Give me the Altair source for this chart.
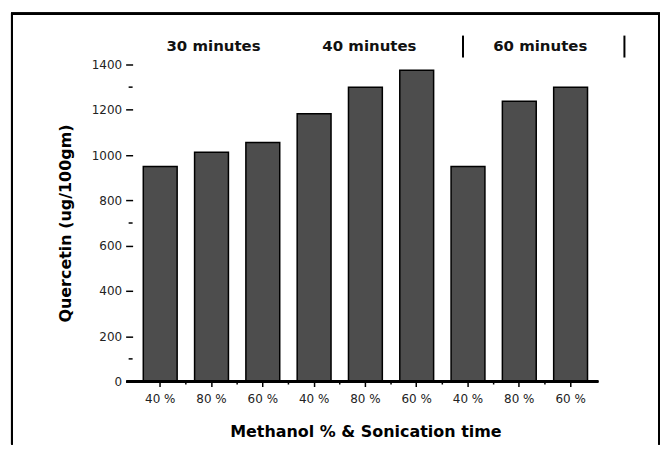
import altair as alt
import pandas as pd

# ---- data ----
keys = ["b1", "b2", "b3", "b4", "b5", "b6", "b7", "b8", "b9"]
labels = ["40 %", "80 %", "60 %", "40 %", "80 %", "60 %", "40 %", "80 %", "60 %"]
values = [950, 1013, 1056, 1183, 1300, 1375, 950, 1238, 1300]
y_ticks = [0, 200, 400, 600, 800, 1000, 1200, 1400]
minor_y = [100, 700, 1300]
group_names = ["30 minutes", "40 minutes", "60 minutes"]
group_anchor = ["b2", "b5", "b8"]
sep_anchor = ["b7", "b9"]

FONT = "DejaVu Sans"
W, H = 467, 318
STEP = 51.4

bars_df = pd.DataFrame({"key": keys, "label": labels, "value": values})
minor_df = pd.DataFrame({"v": minor_y})
between_df = pd.DataFrame({"key": keys[:-1]})

key_arr = "[" + ",".join(f"'{k}'" for k in keys) + "]"
lab_arr = "[" + ",".join(f"'{l}'" for l in labels) + "]"

xscale = alt.Scale(domain=keys, paddingInner=0.34, paddingOuter=0.208)
yscale = alt.Scale(domain=[0, 1400], nice=False)

bars = alt.Chart(bars_df).mark_bar(
    fill="#4d4d4d", stroke="black", strokeWidth=1.5
).encode(
    x=alt.X("key:N", scale=xscale, sort=keys, axis=alt.Axis(
        title="Methanol % & Sonication time",
        labelExpr=f"{lab_arr}[indexof({key_arr}, datum.value)]",
        labelAngle=0, labelFont=FONT, labelFontSize=12, labelColor="#222",
        labelPadding=7, tickSize=5, tickWidth=1.5, tickColor="black",
        domain=False, titleFont=FONT, titleFontSize=16, titleFontWeight="bold",
        titlePadding=19, titleColor="black")),
    y=alt.Y("value:Q", scale=yscale, axis=alt.Axis(
        title="Quercetin (ug/100gm)", values=y_ticks, format="d", domain=False,
        grid=False, tickSize=7, tickWidth=1.5, tickColor="black",
        labelFont=FONT, labelFontSize=12, labelColor="#222", labelPadding=4,
        titleFont=FONT, titleFontSize=16, titleFontWeight="bold",
        titlePadding=18, titleColor="black")),
)

# x axis line (extends to the left like the reference)
xline = alt.Chart(bars_df).mark_rule(color="black", strokeWidth=2).encode(
    x=alt.value(-6), x2=alt.value(W), y=alt.value(H)
)

# minor y ticks
ymin = alt.Chart(minor_df).mark_rule(color="black", strokeWidth=1.5).encode(
    y=alt.Y("v:Q", scale=yscale), x=alt.value(-4), x2=alt.value(0)
)

# small ticks between the bars on the x axis
xmin = alt.Chart(between_df).mark_rule(
    color="black", strokeWidth=1.5, xOffset=STEP / 2
).encode(
    x=alt.X("key:N", scale=xscale, sort=keys), y=alt.value(H), y2=alt.value(H + 3)
)

# group headers
dxs = [2, 4, 21]
headers = []
for name, anc, dx in zip(group_names, group_anchor, dxs):
    headers.append(
        alt.Chart(pd.DataFrame({"key": [anc], "t": [name]})).mark_text(
            font=FONT, fontSize=15, fontWeight="bold", color="#111",
            baseline="middle", dx=dx
        ).encode(x=alt.X("key:N", scale=xscale, sort=keys), y=alt.value(-19), text="t:N")
    )

sep_layers = []
for anc, off in zip(sep_anchor, [-5, 54]):
    sep_layers.append(
        alt.Chart(pd.DataFrame({"key": [anc]})).mark_rule(
            color="black", strokeWidth=2, xOffset=off
        ).encode(x=alt.X("key:N", scale=xscale, sort=keys), y=alt.value(-29), y2=alt.value(-7))
    )

# outer frame (open at the bottom)
frame_l = alt.Chart(bars_df).mark_rule(color="black", strokeWidth=2).encode(
    x=alt.value(-121), y=alt.value(-51), y2=alt.value(H + 63))
frame_t = alt.Chart(bars_df).mark_rule(color="black", strokeWidth=2).encode(
    x=alt.value(-122), x2=alt.value(W + 62), y=alt.value(-51))
frame_r = alt.Chart(bars_df).mark_rule(color="black", strokeWidth=2).encode(
    x=alt.value(W + 61), y=alt.value(-51), y2=alt.value(H + 63))

chart = alt.layer(
    bars, xline, ymin, xmin, *headers, *sep_layers, frame_l, frame_t, frame_r
).properties(
    width=W, height=H,
    autosize=alt.AutoSizeParams(type="pad"),
    padding={"left": 2, "top": 4, "right": 0, "bottom": 0},
    background="white",
).configure_view(stroke="transparent", strokeWidth=0)

chart.save("out.html", embed_options={"renderer": "svg", "actions": False})
